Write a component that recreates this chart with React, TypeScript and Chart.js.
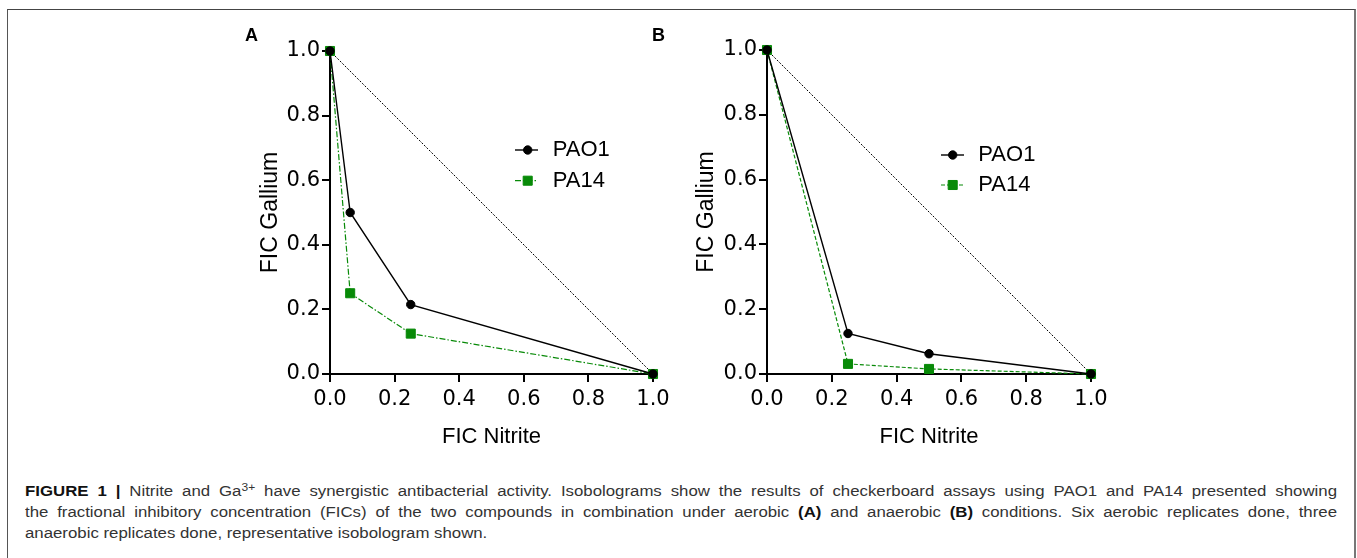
import React, { useEffect, useRef } from 'react';
import { Chart, registerables } from 'chart.js';

Chart.register(...registerables);

// ---------- data ----------
const xTickValues = [0, 0.2, 0.4, 0.6, 0.8, 1.0];
const yTickValues = [0, 0.2, 0.4, 0.6, 0.8, 1.0];
const seriesNames = ['PAO1', 'PA14'];
const xAxisTitle = 'FIC Nitrite';
const yAxisTitle = 'FIC Gallium';

const additivityX = [0, 1];
const additivityY = [1, 0];

const aerobicPAO1X = [0, 0.0625, 0.25, 1];
const aerobicPAO1Y = [1, 0.5, 0.215, 0];
const aerobicPA14X = [0, 0.0625, 0.25, 1];
const aerobicPA14Y = [1, 0.25, 0.125, 0];

const anaerobicPAO1X = [0, 0.25, 0.5, 1];
const anaerobicPAO1Y = [1, 0.125, 0.0625, 0];
const anaerobicPA14X = [0, 0.25, 0.5, 1];
const anaerobicPA14Y = [1, 0.03125, 0.015625, 0];

// ---------- styles ----------
const SANS = '"Liberation Sans", Arial, Helvetica, sans-serif';
const TICK_FONT = '"DejaVu Sans", "Liberation Sans", sans-serif';
const GREEN = '#088a08';

const toPoints = (xs: number[], ys: number[]) => xs.map((x, i) => ({ x, y: ys[i] }));

const isoLegend = {
  id: 'isoLegend',
  afterDatasetsDraw(chart: any, _args: any, opts: any) {
    const { ctx, chartArea } = chart;
    const items = opts.items || [];
    ctx.save();
    items.forEach((it: any) => {
      const ds = chart.data.datasets[it.datasetIndex];
      const y = chartArea.top + it.dy;
      const x0 = chartArea.left + opts.lineStart;
      const x1 = chartArea.left + opts.lineEnd;
      const mx = chartArea.left + opts.marker;
      ctx.beginPath();
      ctx.setLineDash(ds.borderDash || []);
      ctx.lineWidth = ds.borderWidth;
      ctx.strokeStyle = ds.borderColor;
      ctx.moveTo(x0, y);
      ctx.lineTo(x1, y);
      ctx.stroke();
      ctx.setLineDash([]);
      ctx.fillStyle = ds.pointBackgroundColor;
      ctx.strokeStyle = ds.pointBorderColor;
      ctx.lineWidth = 1;
      ctx.beginPath();
      if (ds.pointStyle === 'rect') {
        const s = ds.pointRadius / Math.SQRT2;
        ctx.rect(mx - s, y - s, 2 * s, 2 * s);
      } else {
        ctx.arc(mx, y, ds.pointRadius, 0, Math.PI * 2);
      }
      ctx.fill();
      ctx.stroke();
      ctx.fillStyle = '#000';
      ctx.font = `22px ${SANS}`;
      ctx.textAlign = 'left';
      ctx.textBaseline = 'middle';
      ctx.fillText(ds.label, chartArea.left + opts.text, y);
    });
    ctx.restore();
  },
};

type PanelLayout = {
  canvasLeft: number;
  width: number;
  height: number;
  padTop: number;
  padRight: number;
  yAxisWidth: number;
  xAxisHeight: number;
  yTitlePad: number;
  xTitlePad: number;
  legend: any;
  pa14Dash: number[];
};

function buildConfig(
  pao1: { x: number; y: number }[],
  pa14: { x: number; y: number }[],
  L: PanelLayout
): any {
  const axisCommon = (ticks: number[]) => ({
    type: 'linear',
    min: 0,
    max: 1,
    afterBuildTicks: (scale: any) => {
      scale.ticks = ticks.map((v) => ({ value: v }));
    },
    border: { display: true, color: '#000', width: 2 },
    grid: {
      display: true,
      drawOnChartArea: false,
      drawTicks: true,
      tickLength: 8,
      color: '#000',
      lineWidth: 2,
    },
  });
  return {
    type: 'scatter',
    data: {
      datasets: [
        {
          label: seriesNames[0],
          data: pao1,
          showLine: true,
          borderColor: '#000',
          backgroundColor: '#000',
          borderWidth: 1.4,
          pointStyle: 'circle',
          pointRadius: 4.2,
          pointBorderWidth: 1,
          pointBackgroundColor: '#000',
          pointBorderColor: '#000',
          clip: false,
          order: 0,
        },
        {
          label: seriesNames[1],
          data: pa14,
          showLine: true,
          borderColor: GREEN,
          backgroundColor: GREEN,
          borderWidth: 1.2,
          borderDash: L.pa14Dash,
          pointStyle: 'rect',
          pointRadius: 6.4,
          pointBorderWidth: 1,
          pointBackgroundColor: GREEN,
          pointBorderColor: GREEN,
          clip: false,
          order: 1,
        },
        {
          label: 'Additive',
          data: toPoints(additivityX, additivityY),
          showLine: true,
          borderColor: '#000',
          borderWidth: 1,
          borderDash: [2, 1.5],
          pointRadius: 0,
          clip: false,
          order: 2,
        },
      ],
    },
    options: {
      responsive: false,
      animation: false,
      events: [],
      layout: { padding: { top: L.padTop, right: L.padRight, left: 0, bottom: 0 } },
      plugins: {
        legend: { display: false },
        tooltip: { enabled: false },
        isoLegend: L.legend,
      },
      scales: {
        x: {
          ...axisCommon(xTickValues),
          position: 'bottom',
          afterFit: (s: any) => {
            s.height = L.xAxisHeight;
          },
          ticks: {
            color: '#000',
            padding: 5,
            font: { family: TICK_FONT, size: 21 },
            maxRotation: 0,
            callback: (v: any) => Number(v).toFixed(1),
          },
          title: {
            display: true,
            text: xAxisTitle,
            color: '#000',
            font: { family: SANS, size: 22 },
            padding: { top: 0, bottom: L.xTitlePad },
          },
        },
        y: {
          ...axisCommon(yTickValues),
          position: 'left',
          afterFit: (s: any) => {
            s.width = L.yAxisWidth;
          },
          ticks: {
            color: '#000',
            padding: 2,
            font: { family: TICK_FONT, size: 21 },
            callback: (v: any) => Number(v).toFixed(1),
          },
          title: {
            display: true,
            text: yAxisTitle,
            color: '#000',
            font: { family: SANS, size: 23 },
            padding: { top: L.yTitlePad, bottom: 0 },
          },
        },
      },
    },
    plugins: [isoLegend],
  };
}

const layoutA: PanelLayout = {
  canvasLeft: 200,
  width: 480,
  height: 470,
  padTop: 51,
  padRight: 27,
  yAxisWidth: 130,
  xAxisHeight: 96,
  yTitlePad: 57,
  xTitlePad: 19.8,
  pa14Dash: [6, 2, 1.5, 2],
  legend: {
    lineStart: 185,
    lineEnd: 208,
    marker: 197.7,
    text: 222.7,
    items: [
      { datasetIndex: 0, dy: 99 },
      { datasetIndex: 1, dy: 129.7 },
    ],
  },
};

const layoutB: PanelLayout = {
  canvasLeft: 640,
  width: 480,
  height: 470,
  padTop: 50,
  padRight: 29,
  yAxisWidth: 127,
  xAxisHeight: 96,
  yTitlePad: 53,
  xTitlePad: 19.8,
  pa14Dash: [4, 2],
  legend: {
    lineStart: 174,
    lineEnd: 197,
    marker: 185.7,
    text: 211.3,
    items: [
      { datasetIndex: 0, dy: 105 },
      { datasetIndex: 1, dy: 135 },
    ],
  },
};

function Panel({ pao1, pa14, layout }: { pao1: any; pa14: any; layout: PanelLayout }) {
  const ref = useRef<HTMLCanvasElement | null>(null);
  useEffect(() => {
    if (!ref.current) return;
    const chart = new Chart(ref.current, buildConfig(pao1, pa14, layout));
    return () => chart.destroy();
  }, []);
  return (
    <canvas
      ref={ref}
      width={layout.width}
      height={layout.height}
      style={{
        position: 'absolute',
        left: layout.canvasLeft,
        top: 0,
        width: layout.width,
        height: layout.height,
      }}
    />
  );
}

export default function App() {
  const panelLabel: React.CSSProperties = {
    position: 'absolute',
    top: 26,
    fontFamily: SANS,
    fontWeight: 'bold',
    fontSize: 18,
    lineHeight: '18px',
    color: '#000',
  };
  const capScale = 1.2;
  const capWidth = 1312;
  const lineStyle: React.CSSProperties = {
    textAlign: 'justify',
    textAlignLast: 'justify' as any,
  };
  return (
    <div
      style={{
        position: 'absolute',
        left: 0,
        top: 0,
        width: 1357,
        height: 558,
        overflow: 'hidden',
        background: '#fff',
      }}
    >
      <div
        style={{
          position: 'absolute',
          left: 7,
          top: 9,
          width: 1346,
          height: 620,
          borderTop: '1px solid #444',
          borderLeft: '1px solid #555',
          borderRight: '2px solid #777',
        }}
      />
      <Panel
        pao1={toPoints(aerobicPAO1X, aerobicPAO1Y)}
        pa14={toPoints(aerobicPA14X, aerobicPA14Y)}
        layout={layoutA}
      />
      <Panel
        pao1={toPoints(anaerobicPAO1X, anaerobicPAO1Y)}
        pa14={toPoints(anaerobicPA14X, anaerobicPA14Y)}
        layout={layoutB}
      />
      <div style={{ ...panelLabel, left: 245 }}>A</div>
      <div style={{ ...panelLabel, left: 652 }}>B</div>
      <div
        style={{
          position: 'absolute',
          left: 25,
          top: 480.5,
          width: capWidth / capScale,
          transform: `scaleX(${capScale})`,
          transformOrigin: '0 0',
          fontFamily: SANS,
          fontSize: 14,
          lineHeight: '21px',
          color: '#333',
        }}
      >
        <div style={lineStyle}>
          <b style={{ color: '#111' }}>FIGURE 1 |</b> Nitrite and Ga
          <span style={{ fontSize: 10, position: 'relative', top: -5, lineHeight: 0 }}>3+</span> have
          synergistic antibacterial activity. Isobolograms show the results of checkerboard assays
          using PAO1 and PA14 presented showing
        </div>
        <div style={lineStyle}>
          the fractional inhibitory concentration (FICs) of the two compounds in combination under
          aerobic <b style={{ color: '#111' }}>(A)</b> and anaerobic{' '}
          <b style={{ color: '#111' }}>(B)</b> conditions. Six aerobic replicates done, three
        </div>
        <div>anaerobic replicates done, representative isobologram shown.</div>
      </div>
    </div>
  );
}
